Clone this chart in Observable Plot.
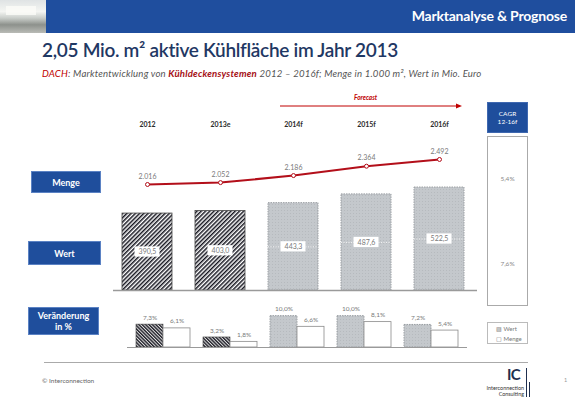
<!DOCTYPE html>
<html><head><meta charset="utf-8">
<script src="https://cdn.jsdelivr.net/npm/d3@7"></script>
<script src="https://cdn.jsdelivr.net/npm/@observablehq/plot@0.6"></script>
<style>
html,body{margin:0;padding:0;background:#fff;}
body{width:575px;height:398px;position:relative;overflow:hidden;font-family:Lato,"Open Sans",sans-serif;}
.abs{position:absolute;}
.lbl{position:absolute;background:#1f4e9c;color:#fff;font-weight:bold;font-size:9px;display:flex;align-items:center;justify-content:center;text-align:center;box-sizing:border-box;border:1px solid #5b82c4;line-height:11px;}
.plot{position:absolute;}
</style></head><body>
<svg width="0" height="0" style="position:absolute">
<defs>
<pattern id="hatchW" patternUnits="userSpaceOnUse" width="3" height="3" patternTransform="rotate(45)">
<rect width="3" height="3" fill="#fff"/><rect width="1.5" height="3" fill="#15151f"/></pattern>
<pattern id="hatchC" patternUnits="userSpaceOnUse" width="2.4" height="2.4" patternTransform="rotate(-45)">
<rect width="2.4" height="2.4" fill="#e0e0e0"/><rect width="1.4" height="2.4" fill="#22222b"/></pattern>
<pattern id="dotGray" patternUnits="userSpaceOnUse" width="3" height="3">
<rect width="3" height="3" fill="#c4c8cc"/><rect x="1" y="1" width="1" height="1" fill="#b6babe"/></pattern>
</defs></svg>

<!-- header -->
<div class="abs" style="left:0;top:0;width:46px;height:33px;background:linear-gradient(180deg,#dfe3e4 0%,#f4f5f2 35%,#c9cdc9 55%,#8d918c 75%,#b9bbb6 100%);"></div>
<div class="abs" style="left:6px;top:6px;width:30px;height:9px;background:#fbfbf8;opacity:.8;"></div>
<div class="abs" style="left:46px;top:0;width:529px;height:33px;background:#1f4e9e;"></div>
<div class="abs" style="right:8px;top:7px;color:#fff;font-weight:bold;font-size:14px;letter-spacing:-0.2px;">Marktanalyse &amp; Prognose</div>

<div class="abs" style="left:42px;top:38px;color:#1f3864;font-size:19px;font-weight:600;letter-spacing:-0.3px;white-space:nowrap;">2,05 Mio. m² aktive Kühlfläche im Jahr 2013</div>
<div class="abs" style="left:42px;top:68px;color:#555;font-size:9.6px;font-style:italic;letter-spacing:0.2px;white-space:nowrap;"><span style="color:#c00000">DACH</span>: Marktentwicklung von <span style="color:#a50f15;font-weight:bold">Kühldeckensystemen</span> 2012 – 2016f; Menge in 1.000 m², Wert in Mio. Euro</div>

<!-- forecast arrow -->
<div class="abs" style="left:354px;top:94px;color:#c00000;font-size:6.5px;font-weight:bold;font-style:italic;">Forecast</div>
<svg class="abs" style="left:0;top:0" width="575" height="120"><line x1="280" y1="106" x2="458" y2="106" stroke="#c00000" stroke-width="1"/><path d="M462,106 L456,103.5 L456,108.5 Z" fill="#c00000"/></svg>

<!-- left labels -->
<div class="lbl" style="left:31px;top:171px;width:70px;height:22px;">Menge</div>
<div class="lbl" style="left:28px;top:241px;width:73px;height:24px;">Wert</div>
<div class="lbl" style="left:28px;top:307px;width:71px;height:28px;">Veränderung<br>in %</div>

<div id="p1" class="plot" style="left:100px;top:95px;"></div>
<div id="p1b" class="plot" style="left:100px;top:95px;"></div>
<div id="p2" class="plot" style="left:120px;top:300px;"></div>

<!-- CAGR column -->
<div id="cagrHead" class="lbl" style="left:487px;top:102px;width:41px;height:31px;font-size:6.5px;line-height:8px;font-weight:normal;border-color:#3f68b0;"></div>
<div class="abs" style="left:487px;top:136px;width:41px;height:170px;box-sizing:border-box;border:1px solid #aaa;"></div>
<div id="cagr1" class="abs" style="left:487px;top:175px;width:41px;text-align:center;color:#888;font-size:6.5px;"></div>
<div id="cagr2" class="abs" style="left:487px;top:260px;width:41px;text-align:center;color:#888;font-size:6.5px;"></div>
<div class="abs" style="left:487px;top:322px;width:41px;height:22px;box-sizing:border-box;border:1px solid #bbb;"></div>
<div class="abs" style="left:496px;top:324px;color:#777;font-size:6px;line-height:10px;">▨ Wert<br>▢ Menge</div>

<!-- footer -->
<div class="abs" style="left:44px;top:362px;width:484px;height:1px;background:#aaa;"></div>
<div class="abs" style="left:42px;top:377px;color:#666;font-size:6.5px;">© Interconnection</div>
<div class="abs" style="left:507px;top:367px;color:#1f2f4f;font-size:15px;line-height:15px;height:15px;font-weight:bold;letter-spacing:-0.8px;">IC</div>
<div class="abs" style="left:526px;top:368px;width:1px;height:29px;background:#1f2f4f;"></div>
<div class="abs" style="left:529px;top:382px;width:1px;height:15px;background:#1f2f4f;"></div>
<div class="abs" style="right:51px;top:385px;color:#333;font-size:5.4px;text-align:right;line-height:6.3px;">Interconnection<br>Consulting</div>
<div class="abs" style="left:564px;top:377px;color:#999;font-size:5.5px;">1</div>

<script>
const years = ["2012", "2013e", "2014f", "2015f", "2016f"];
const wert = [390.5, 403.0, 443.3, 487.6, 522.5];
const menge = [2016, 2052, 2186, 2364, 2492];
const wertChange = [7.3, 3.2, 10.0, 10.0, 7.2];
const mengeChange = [6.1, 1.8, 6.6, 8.1, 5.4];
const isForecast = [false, false, true, true, true];
const cagrHeader = ["CAGR", "12-16f"];
const cagrLabels = ["5,4%", "7,6%"];

const de = d3.formatLocale({decimal: ",", thousands: ".", grouping: [3], currency: ["", " €"]});
const f1 = de.format(".1f");
const fInt = de.format(",d");
const fPct = v => de.format(".1f")(v) + "%";

const rows = years.map((year, i) => ({year, wert: wert[i], menge: menge[i], wc: wertChange[i], mc: mengeChange[i], fc: isForecast[i]}));
const hist = rows.filter(d => !d.fc);
const fc = rows.filter(d => d.fc);

document.getElementById("cagrHead").innerHTML = cagrHeader.join("<br>");
document.getElementById("cagr1").textContent = cagrLabels[0];
document.getElementById("cagr2").textContent = cagrLabels[1];

const baseStyle = {fontFamily: "Lato, 'Open Sans', sans-serif", fontSize: "7px", background: "transparent", overflow: "visible"};

// Wert bars
const p1 = Plot.plot({
  width: 390, height: 200,
  marginLeft: 8, marginRight: 13, marginTop: 35, marginBottom: 5,
  style: baseStyle,
  x: {domain: years, paddingInner: 0.32, paddingOuter: 0.16, label: null},
  y: {domain: [0, 812], axis: null},
  marks: [
    Plot.axisX({anchor: "top", tickSize: 0, tickPadding: 4, fontSize: 7, fontWeight: "bold", fill: "#2b2b2b", label: null}),
    Plot.barY(hist, {x: "year", y: "wert", fill: "url(#hatchW)", stroke: "#444", strokeWidth: 0.8}),
    Plot.barY(fc, {x: "year", y: "wert", fill: "url(#dotGray)", stroke: "#9a9ea2", strokeWidth: 1, strokeDasharray: "1.5,1"}),
    Plot.tickY(fc, {x: "year", y: d => d.wert / 2, stroke: "#f2f2f2", strokeWidth: 1, strokeDasharray: "1,1.5"}),
    Plot.barY(rows, {x: "year", y1: d => d.wert / 2 - 26, y2: d => d.wert / 2 + 26, fill: "white", insetLeft: 12.5, insetRight: 12.5}),
    Plot.text(rows, {x: "year", y: d => d.wert / 2, text: d => f1(d.wert), fill: "#7a7a7a", fontSize: 7}),
    Plot.ruleY([0], {stroke: "#9a9a9a", strokeWidth: 1.3, insetLeft: 5})
  ]
});
document.getElementById("p1").appendChild(p1);

// Menge line
const p1b = Plot.plot({
  width: 390, height: 200,
  marginLeft: 8, marginRight: 13, marginTop: 35, marginBottom: 5,
  style: baseStyle,
  x: {domain: years, paddingInner: 0.32, paddingOuter: 0.16, axis: null},
  y: {domain: [0, 3043], axis: null},
  marks: [
    Plot.line(rows, {x: "year", y: "menge", stroke: "#b30f1a", strokeWidth: 2}),
    Plot.dot(rows, {x: "year", y: "menge", r: 2, fill: "white", stroke: "#b30f1a", strokeWidth: 1}),
    Plot.text(rows, {x: "year", y: "menge", text: d => fInt(d.menge), dy: -8, fill: "#7a7a7a", fontSize: 7})
  ]
});
document.getElementById("p1b").appendChild(p1b);

// Change %
const p2 = Plot.plot({
  width: 360, height: 50,
  marginLeft: 7, marginRight: 13, marginTop: 0, marginBottom: 3,
  style: baseStyle,
  x: {domain: years, paddingInner: 0.2, paddingOuter: 0.11, axis: null},
  y: {domain: [0, 15], axis: null},
  marks: [
    Plot.barY(hist, {x: "year", y: "wc", fill: "url(#hatchC)", stroke: "#444", strokeWidth: 0.6, insetRight: 27}),
    Plot.barY(fc, {x: "year", y: "wc", fill: "url(#dotGray)", stroke: "#9a9ea2", strokeWidth: 1, strokeDasharray: "1.5,1", insetRight: 27}),
    Plot.barY(rows, {x: "year", y: "mc", fill: "white", stroke: "#8a8a8a", strokeWidth: 0.8, insetLeft: 27}),
    Plot.text(rows, {x: "year", y: "wc", text: d => fPct(d.wc), dx: -13.5, dy: -7, fill: "#7a7a7a", fontSize: 6.5}),
    Plot.text(rows, {x: "year", y: "mc", text: d => fPct(d.mc), dx: 13.5, dy: -7, fill: "#7a7a7a", fontSize: 6.5}),
    Plot.ruleY([0], {stroke: "#9a9a9a", strokeWidth: 1.2})
  ]
});
document.getElementById("p2").appendChild(p2);
</script>
</body></html>
